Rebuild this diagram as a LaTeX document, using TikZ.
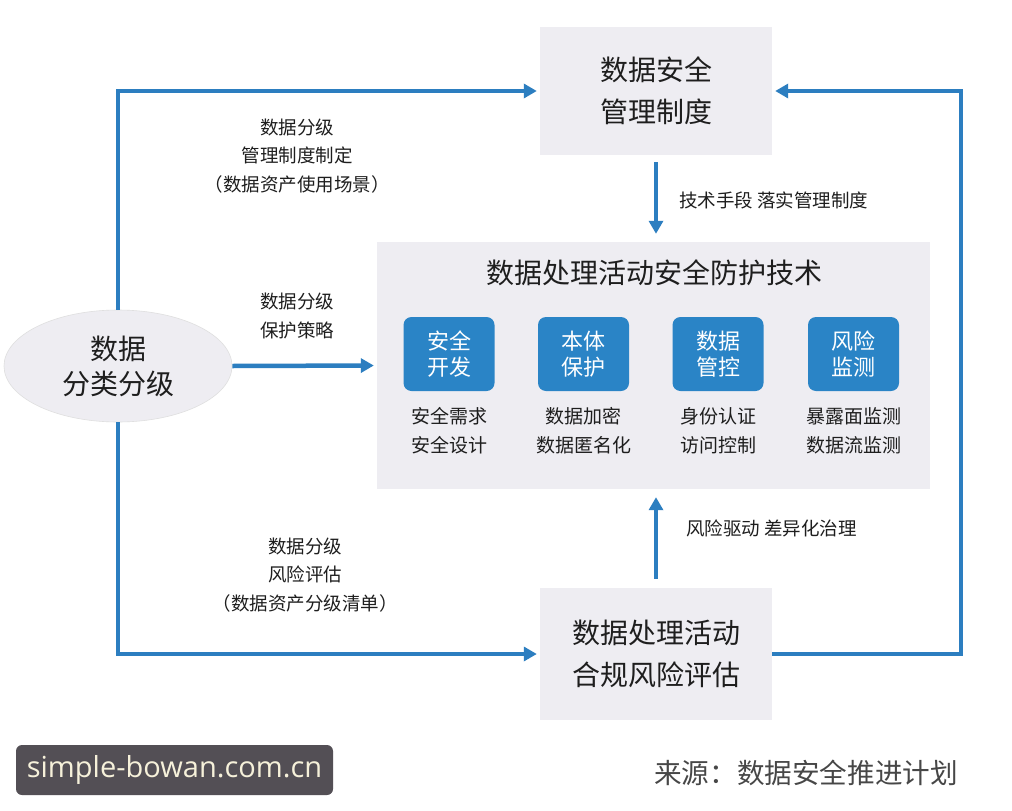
\documentclass[tikz,border=0pt]{standalone}
\usepackage{fontspec}
\setmainfont{Noto Sans CJK SC}
\newfontfamily\webfont{Open Sans}
\usepackage{xcolor}
\usetikzlibrary{shapes.geometric, arrows.meta}

\definecolor{flowblue}{HTML}{2C7EC0}
\definecolor{tilefill}{HTML}{2A84C6}
\definecolor{panelgray}{HTML}{EEEDF2}
\definecolor{inkdark}{HTML}{1E1E1E}
\definecolor{tagdark}{HTML}{534F55}
\definecolor{tagtext}{HTML}{F6F1DA}

\tikzset{
    panel/.style={fill=panelgray, draw=none, inner sep=0pt, align=center,
        text=inkdark, font=\fontsize{28}{42}\selectfont},
    tile/.style={fill=tilefill, rounded corners=8pt, minimum width=91pt,
        minimum height=74pt, inner sep=0pt, align=center, text=white,
        font=\fontsize{22}{26}\selectfont},
    subtext/.style={inner sep=0pt, align=center, text=inkdark,
        font=\fontsize{19}{29}\selectfont},
    flow/.style={draw=flowblue, line width=4.5pt,
        -{Triangle[length=13pt,width=14pt]}},
    flowline/.style={draw=flowblue, line width=4.5pt}
}

\begin{document}
\begin{tikzpicture}[x=1pt, y=-1pt]
    \useasboundingbox[fill=white] (0,0) rectangle (1012,811);

    % boxes
    \node [panel, minimum width=232pt, minimum height=128pt] (policy) at (656,91) {数据安全\\管理制度};
    \node [panel, minimum width=553pt, minimum height=247pt] (tech) at (653.5,365.5) {};
    \node [panel, minimum width=232pt, minimum height=132pt] (assess) at (656,654) {数据处理活动\\合规风险评估};
    \node [ellipse, fill=panelgray, draw=gray!25, line width=0.6pt, minimum width=228pt,
        minimum height=112pt, inner sep=0pt, align=center, text=inkdark,
        font=\fontsize{28}{35}\selectfont] (grading) at (118,366) {数据\\分类分级};

    \node [inner sep=0pt, text=inkdark, font=\fontsize{28}{34}\selectfont] (techtitle) at (654,273) {数据处理活动安全防护技术};

    \node [tile] (devsec) at (449,354) {安全\\开发};
    \node [tile] (ontology) at (583.5,354) {本体\\保护};
    \node [tile] (datactl) at (718,354) {数据\\管控};
    \node [tile] (riskmon) at (853.5,354) {风险\\监测};
    \node [subtext] (devsectxt) at (449,431) {安全需求\\安全设计};
    \node [subtext] (ontologytxt) at (583.5,431) {数据加密\\数据匿名化};
    \node [subtext] (datactltxt) at (718,431) {身份认证\\访问控制};
    \node [subtext] (riskmontxt) at (853.5,431) {暴露面监测\\数据流监测};

    % connectors
    \coordinate (rturn) at (961,91);
    \draw [flow, shorten >=3pt] (grading.north) |- (policy.west);
    \draw [flow, shorten >=3pt] (grading.south) |- (assess.west);
    \draw [flow, shorten >=3pt] (assess.east) -| (rturn) -- (policy.east);
    \draw [flow, shorten >=3pt] (grading.east) -- (tech.west);
    \draw [flow, shorten <=7pt, shorten >=8pt] (policy.south) -- (policy.south |- tech.north);
    \draw [flow, shorten <=9pt, shorten >=8pt] (assess.north) -- (assess.north |- tech.south);

    % labels
    \node [subtext, font=\fontsize{18.5}{28.5}\selectfont] (mgmtlabel) at (297,156) {数据分级\\管理制度制定\\（数据资产使用场景）};
    \node [subtext, font=\fontsize{18.5}{28.5}\selectfont] (protlabel) at (297,316) {数据分级\\保护策略};
    \node [subtext, font=\fontsize{18.5}{28.5}\selectfont] (risklabel) at (305,575) {数据分级\\风险评估\\（数据资产分级清单）};
    \node [subtext, anchor=west, font=\fontsize{18.5}{28.5}\selectfont] (techlabel) at (679,200) {技术手段 落实管理制度};
    \node [subtext, anchor=west, font=\fontsize{18.5}{28.5}\selectfont] (drivelabel) at (686,528) {风险驱动 差异化治理};

    % footer
    \node [anchor=east, inner sep=0pt, text=black!72, font=\fontsize{27.6}{30}\selectfont] (source) at (958,773) {来源：数据安全推进计划};
    \node [fill=tagdark, rounded corners=6pt, minimum width=317pt, minimum height=50pt,
        inner sep=0pt, text=tagtext, font=\webfont\fontsize{29}{32}\selectfont] (site) at (174.5,770) {simple-bowan.com.cn};
\end{tikzpicture}
\end{document}
